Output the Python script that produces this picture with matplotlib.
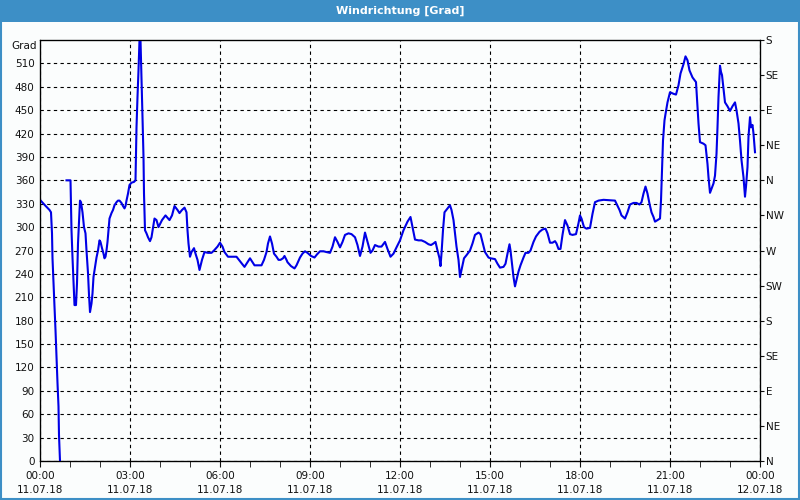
import numpy as np
import matplotlib
matplotlib.use("Agg")
import matplotlib.pyplot as plt
from matplotlib.patches import Rectangle

# wind direction readings, 11.07.18 (minutes after midnight, degrees)
minutes = [0, 10, 19, 22, 24, 25, 27, 29, 31, 33, 35, 37, 38, 40, 42,
           53, 61, 62, 63, 65, 67, 69, 72, 74, 76, 78, 80, 82, 85, 88, 91, 93, 96, 98, 100,
           103, 105, 107, 111, 113, 116, 119, 121, 124, 127, 129, 131, 133, 135, 137, 139,
           143, 146, 149, 153, 156, 159, 163, 166, 169, 171, 173, 176, 179, 183, 188, 191,
           192, 193, 195, 197, 199, 201, 203, 205, 207, 208, 210, 213, 216, 220, 223, 226,
           229, 233, 237, 244, 251, 259, 264, 269, 275, 279, 284, 289, 293, 295, 297, 300,
           303, 308, 311, 315, 319, 324, 329, 336, 343, 348, 355, 360, 365, 369, 376, 393,
           399, 404, 409, 415, 420, 425, 429, 443, 448, 453, 456, 460, 464, 468, 473, 477,
           481, 486, 489, 493, 495, 502, 509, 513, 520, 525, 530, 535, 542, 549, 554, 560,
           567, 573, 580, 585, 590, 595, 600, 605, 610, 617, 623, 630, 635, 640, 645, 650,
           655, 661, 665, 670, 677, 683, 690, 695, 701, 707, 713, 720, 727, 735, 741, 745,
           750, 757, 763, 770, 777, 782, 787, 791, 795, 799, 801, 803, 806, 809, 815, 820,
           823, 827, 830, 833, 837, 840, 843, 848, 853, 860, 865, 870, 877, 881, 885, 890,
           897, 901, 910, 915, 920, 927, 931, 935, 939, 941, 944, 947, 950, 953, 957, 961,
           967, 971, 977, 981, 987, 992, 999, 1005, 1011, 1015, 1020, 1025, 1030, 1033, 1037,
           1041, 1045, 1050, 1055, 1060, 1065, 1072, 1077, 1080, 1083, 1088, 1093, 1100, 1105,
           1110, 1117, 1127, 1150, 1153, 1159, 1163, 1170, 1175, 1180, 1187, 1193, 1199, 1203,
           1207, 1211, 1215, 1219, 1223, 1227, 1230, 1235, 1240, 1242, 1244, 1246, 1249, 1251,
           1255, 1260, 1267, 1272, 1277, 1281, 1287, 1291, 1295, 1299, 1305, 1312, 1315, 1317,
           1320, 1327, 1331, 1335, 1337, 1340, 1343, 1347, 1350, 1353, 1355, 1357, 1360, 1362,
           1364, 1367, 1370, 1375, 1380, 1385, 1390, 1393, 1397, 1400, 1403, 1407, 1410, 1412,
           1415, 1417, 1420, 1422, 1425, 1427, 1430]
direction = [335, 328, 322, 319, 292, 260, 228, 198, 168, 134, 100, 70, 33, 0, np.nan,
             360, 360, 330, 296, 261, 232, 200, 200, 228, 279, 306, 334, 332, 319, 300, 292, 270, 241, 213, 191,
             202, 215, 236, 253, 261, 270, 283, 281, 273, 266, 260, 262, 270, 281, 296, 311,
             318, 322, 328, 332, 334, 334, 331, 327, 324, 327, 334, 343, 354, 357, 358, 360,
             395, 428, 467, 501, 545, 560, 488, 441, 390, 343, 296, 292, 287, 282, 287, 299,
             311, 309, 300, 309, 315, 309, 315, 327, 322, 318, 322, 325, 319, 296, 279, 262,
             268, 273, 266, 258, 245, 258, 268, 267, 267, 270, 275, 280, 275, 268, 262, 262,
             257, 253, 249, 255, 260, 255, 251, 251, 258, 268, 279, 288, 279, 266, 262, 258,
             258, 260, 263, 258, 255, 250, 247, 251, 261, 266, 269, 267, 263, 261, 265, 269,
             269, 268, 267, 275, 287, 281, 274, 281, 290, 292, 291, 287, 277, 263, 275, 293,
             281, 267, 270, 277, 275, 275, 281, 272, 262, 266, 274, 283, 296, 307, 313, 300,
             284, 283, 283, 281, 278, 277, 279, 281, 270, 260, 250, 266, 296, 319, 324, 328,
             322, 309, 292, 275, 258, 236, 245, 260, 264, 270, 279, 290, 293, 291, 281, 268,
             261, 260, 259, 253, 248, 249, 253, 266, 278, 270, 253, 236, 224, 232, 243, 251,
             261, 267, 267, 270, 281, 288, 294, 297, 298, 292, 280, 280, 282, 279, 272,
             272, 290, 309, 302, 291, 290, 291, 305, 315, 311, 300, 298, 299, 317,
             332, 334, 335, 334, 330, 322, 315, 311, 319, 329, 331, 331, 329, 332,
             343, 352, 343, 330, 319, 313, 307, 309, 311, 334, 373, 411, 437, 445,
             460, 473, 471, 470, 482, 497, 509, 519, 514, 501, 492, 486, 454, 433,
             409, 407, 405, 381, 364, 344, 349, 356, 366, 394, 428, 467, 507, 499,
             495, 477, 460, 455, 449, 455, 460, 450, 433, 411, 386, 364, 339, 352,
             377, 416, 441, 428, 431, 420, 396]

left_ticks = list(range(0, 511, 30))
compass = ["N", "NE", "E", "SE", "S", "SW", "W", "NW", "N", "NE", "E", "SE", "S"]
hour_ticks = list(range(0, 25, 3))
hour_labels = [f"{h % 24:02d}:00\n{'12.07.18' if h == 24 else '11.07.18'}" for h in hour_ticks]

plt.rcParams['font.family'] = ['DejaVu Sans']
plt.rcParams['font.size'] = 7.5

bg = "#fbfdfd"
bar = "#3d8fc6"
fig = plt.figure(figsize=(8, 5), dpi=100, facecolor=bg)

# title bar and frame
fig.patches.append(Rectangle((0, 1 - 22 / 500), 1, 22 / 500, transform=fig.transFigure,
                             facecolor=bar, edgecolor="none", zorder=0))
fig.patches.append(Rectangle((0.001, 0.002), 0.998, 0.996, transform=fig.transFigure,
                             facecolor="none", edgecolor=bar, linewidth=1.5, zorder=5))
fig.text(0.5, 1 - 11 / 500, "Windrichtung [Grad]", color="white", fontweight="bold",
         ha="center", va="center", fontsize=8)

ax = fig.add_axes([40 / 800, 1 - 461 / 500, 720 / 800, 421 / 500])
ax.set_facecolor(bg)
hours = np.array(minutes) / 60.0
vals = np.clip(np.array(direction, dtype=float), None, 540)
ax.plot(hours, vals, color="#0000e6", linewidth=1.5, clip_on=True, zorder=3)

ax.set_xlim(0, 24)
ax.set_ylim(0, 540)
ax.set_yticks(left_ticks)
ax.set_xticks(hour_ticks)
ax.set_xticklabels(hour_labels, linespacing=1.5)
ax.set_xticks(range(0, 25), minor=True)
ax.tick_params(axis="y", length=0, pad=4, colors="#111111")
ax.tick_params(axis="x", which="both", length=4, direction="out", pad=3, colors="#111111")
ax.grid(True, which="major", color="black", linestyle=(0, (3, 3)), linewidth=0.8)
for s in ax.spines.values():
    s.set_color("black")
    s.set_linewidth(0.9)

ax2 = ax.twinx()
ax2.set_ylim(0, 540)
ax2.set_yticks(range(0, 541, 45))
ax2.set_yticklabels(compass)
ax2.tick_params(axis="y", length=3, pad=1, colors="#111111")
ax2.spines["right"].set_color("black")

fig.text(37 / 800, 1 - 46 / 500, "Grad", ha="right", va="center", color="#111111")

fig.savefig("out.png", dpi=100, facecolor=bg)
